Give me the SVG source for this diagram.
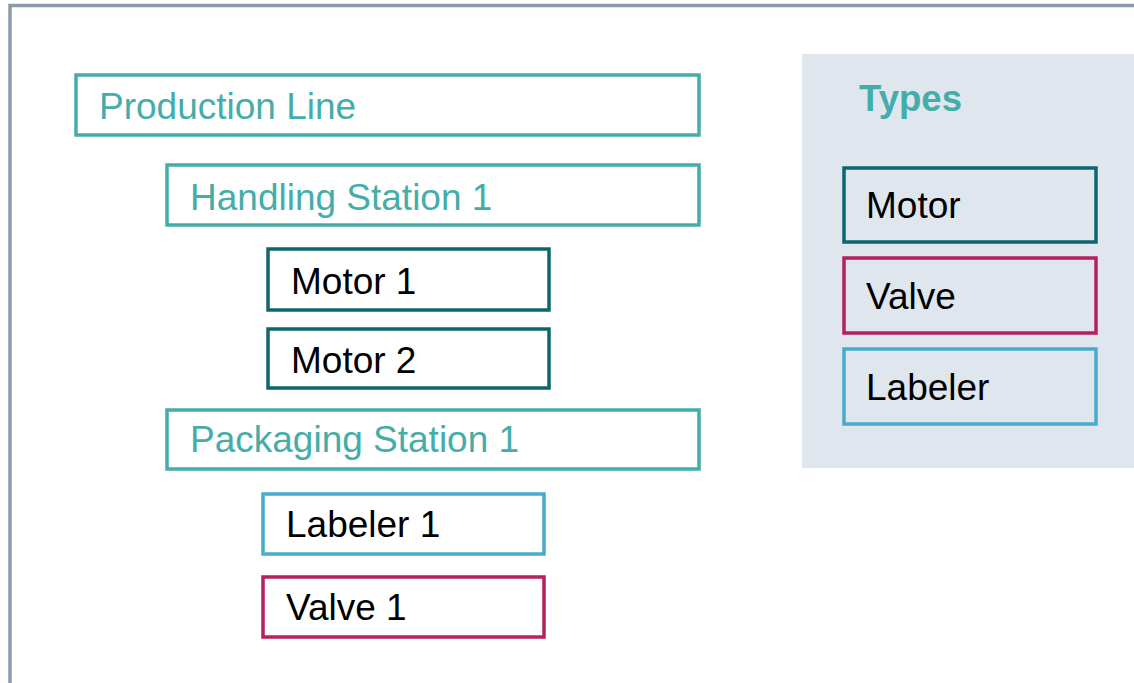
<svg xmlns="http://www.w3.org/2000/svg" width="1134" height="683" viewBox="0 0 1134 683">
<style>
text{font-family:"Liberation Sans",Arial,sans-serif;font-size:37px}
.box{fill:#ffffff;stroke-width:3.5}
.grp{stroke:#45ada9}
.motor{stroke:#0b6670}
.valve{stroke:#b4215e}
.lab{stroke:#47accb}
.tg{fill:#45ada9}
.tk{fill:#000000}
</style>
<rect x="0" y="0" width="1134" height="683" fill="#ffffff"/>
<rect id="frame" x="10" y="5.5" width="1300" height="800" fill="none" stroke="#8a9aab" stroke-width="3.5"/>
<g id="connectors"></g>
<g id="production-line"><rect class="box grp" x="76" y="75" width="623" height="60"/><text class="tg" x="99" y="119">Production Line</text></g>
<g id="handling-station-1"><rect class="box grp" x="167" y="165" width="532" height="60"/><text class="tg" x="190" y="210">Handling Station 1</text></g>
<g id="motor-1"><rect class="box motor" x="268" y="249" width="281" height="61"/><text class="tk" x="291" y="294">Motor 1</text></g>
<g id="motor-2"><rect class="box motor" x="268" y="329" width="281" height="59"/><text class="tk" x="291" y="373">Motor 2</text></g>
<g id="packaging-station-1"><rect class="box grp" x="167" y="410" width="532" height="59"/><text class="tg" x="190" y="452">Packaging Station 1</text></g>
<g id="labeler-1"><rect class="box lab" x="263" y="494" width="281" height="60"/><text class="tk" x="286" y="537">Labeler 1</text></g>
<g id="valve-1"><rect class="box valve" x="263" y="577" width="281" height="60"/><text class="tk" x="286" y="620">Valve 1</text></g>
<g id="types">
<rect x="802" y="54" width="340" height="414" fill="#e0e6ee"/>
<text class="tg" x="859" y="111" style="font-weight:bold;font-size:36.6px">Types</text>
</g>
<g id="type-motor"><rect class="motor" fill="#e0e6ee" stroke-width="3.5" x="844" y="168" width="252" height="74"/><text class="tk" x="866" y="218">Motor</text></g>
<g id="type-valve"><rect class="valve" fill="#e0e6ee" stroke-width="3.5" x="844" y="258" width="252" height="75"/><text class="tk" x="866" y="309">Valve</text></g>
<g id="type-labeler"><rect class="lab" fill="#e0e6ee" stroke-width="3.5" x="844" y="349" width="252" height="75"/><text class="tk" x="866" y="400">Labeler</text></g>
</svg>
